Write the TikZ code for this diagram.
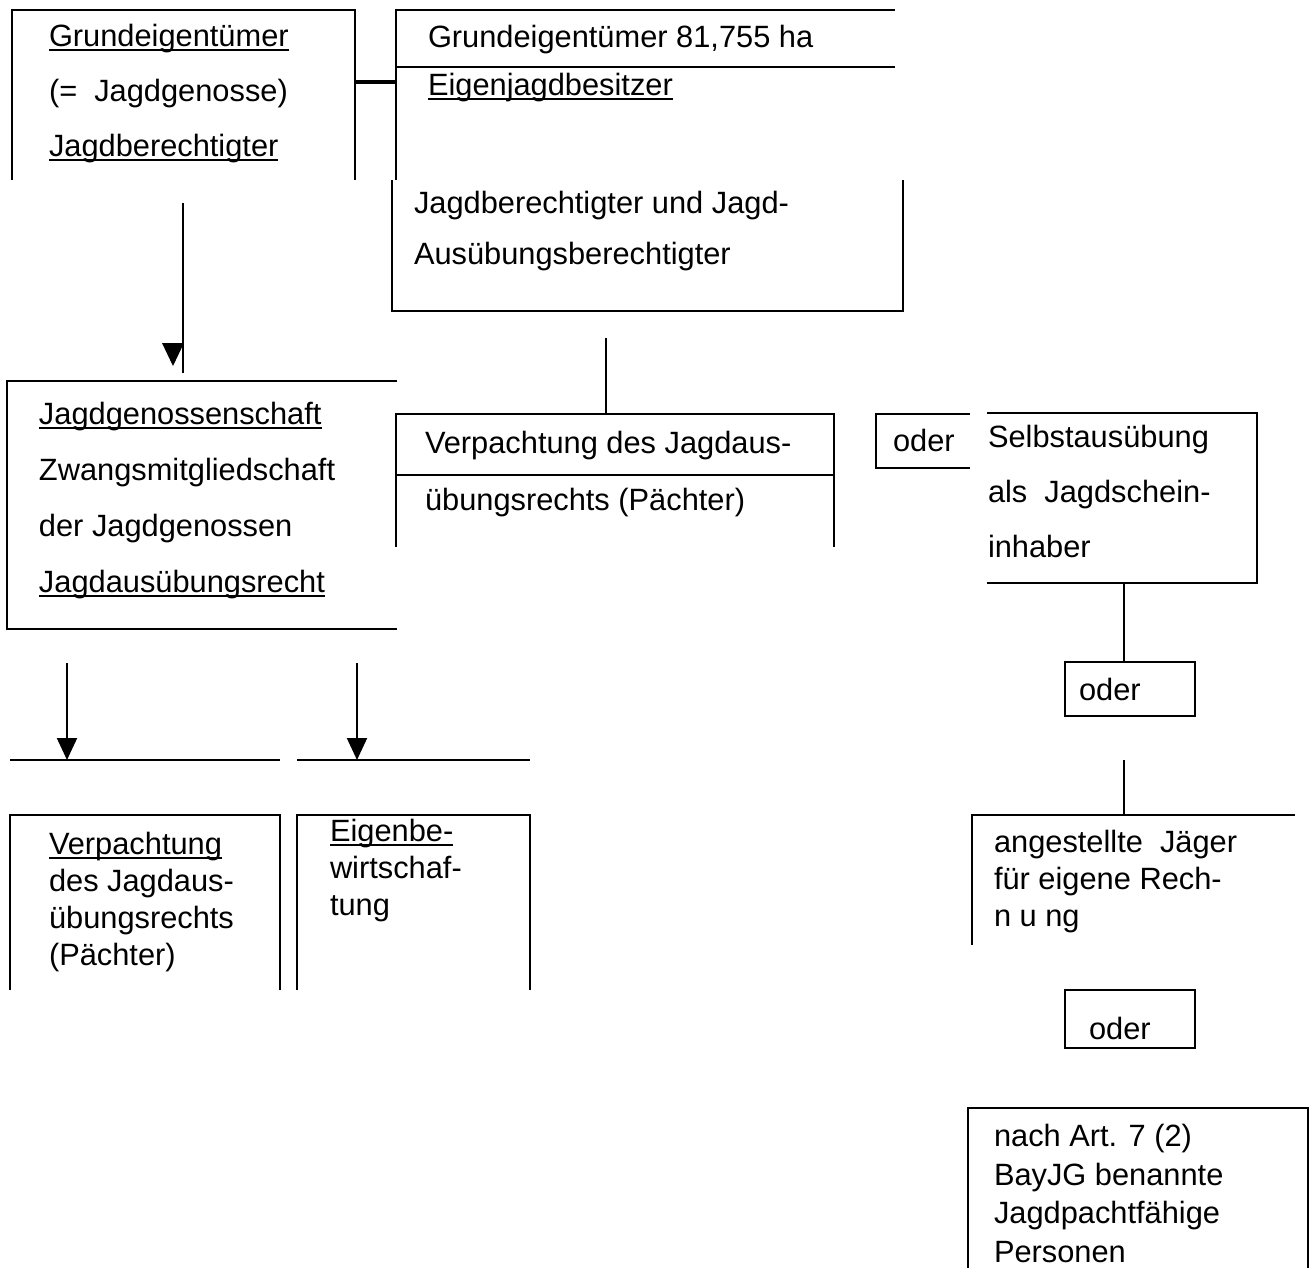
\documentclass[tikz,border=0pt]{standalone}
\usepackage{fontspec}
\setmainfont{Liberation Sans}
\usepackage{tikz}
\usetikzlibrary{arrows.meta,positioning}
\newcommand{\ulin}[1]{\setbox0\hbox{#1}\rlap{\rule[-2.4pt]{\wd0}{0.9pt}}\box0}

\begin{document}
\begin{tikzpicture}[x=0.5pt, y=-0.5pt, line width=1pt,
  every node/.style={inner sep=0pt, anchor=base west, align=left, font=\fontsize{15.4}{18.5}\selectfont},
  wide/.style={font=\fontsize{15.4}{27.5}\selectfont},
  oderbox/.style={draw, anchor=center, minimum width=65pt, minimum height=27pt, text width=51pt, inner xsep=7pt},
  arr/.style={-{Triangle[length=11pt, width=10pt]}}]
  \useasboundingbox (0,0) rectangle (1311,1276);

  % Top row (multi-line nodes sit on their last baseline)
  \node[wide] (geig) at (48,156) {\ulin{Grundeigentümer}\\(=\ \ Jagdgenosse)\\\ulin{Jagdberechtigter}};
  \draw (12,180) -- (12,10) -- (355,10) -- (355,180);
  \node (ejbha) at (427,47) {Grundeigentümer 81,755 ha};
  \node (ejb) at (427,95) {\ulin{Eigenjagdbesitzer}};
  \draw (396,180) -- (396,10) -- (895,10);
  \draw (396,67) -- (895,67);
  \node[font=\fontsize{15.4}{25.5}\selectfont] (jber) at (413,264) {Jagdberechtigter und Jagd-\\Ausübungsberechtigter};
  \draw (392,180) -- (392,311) -- (903,311) -- (903,180);

  % Middle row
  \node[font=\fontsize{15.4}{28}\selectfont] (jgen) at (38,592) {\ulin{Jagdgenossenschaft}\\Zwangsmitgliedschaft\\der Jagdgenossen\\\ulin{Jagdausübungsrecht}};
  \draw (397,381) -- (7,381) -- (7,629) -- (397,629);
  \node (verp) at (424,453) {Verpachtung des Jagdaus-};
  \node (verpb) at (424,510) {übungsrechts (Pächter)};
  \draw (396,547) -- (396,414) -- (834,414) -- (834,547);
  \draw (396,475) -- (834,475);
  \node (oder1) at (892,451) {oder};
  \draw (970,414) -- (876,414) -- (876,468) -- (970,468);
  \node[wide] (selbst) at (987,557) {Selbstausübung\\als\ \ Jagdschein-\\inhaber};
  \draw (987,413) -- (1257,413) -- (1257,583) -- (987,583);

  % Right column
  \node[oderbox] (oder2) at (1130,689) {oder};
  \node (angj) at (993,926) {angestellte\ \ Jäger\\für eigene Rech-\\n u ng};
  \draw (972,945) -- (972,815) -- (1295,815);
  \node[oderbox, minimum height=29pt, text height=21pt, inner xsep=12pt, text width=41pt] (oder3) at (1130,1019) {oder};
  \node[font=\fontsize{15.4}{19.2}\selectfont] (bayjg) at (993,1262) {nach Art. 7 (2)\\BayJG benannte\\Jagdpachtfähige\\Personen};
  \draw (968,1268) -- (968,1108) -- (1308,1108) -- (1308,1268);

  % Bottom left
  \draw (10,760) -- (280,760);
  \draw (297,760) -- (530,760);
  \node (verpl) at (48,965) {\ulin{Verpachtung}\\des Jagdaus-\\übungsrechts\\(Pächter)};
  \draw (10,990) -- (10,815) -- (280,815) -- (280,990);
  \node (eigb) at (329,915) {\ulin{Eigenbe-}\\wirtschaf-\\tung};
  \draw (297,990) -- (297,815) -- (530,815) -- (530,990);

  % Connectors
  \coordinate (geigr) at (355,82);
  \coordinate (ejbl) at (396,82);
  \draw[line width=2pt] (geigr) -- (ejbl);
  \coordinate (geigs) at (183,203);
  \coordinate (jgent) at (183,373);
  \draw (geigs) -- (jgent);
  \fill (162,343) -- (184,343) -- (173,366) -- cycle;
  \coordinate (jberb) at (606,338);
  \coordinate (verpt) at (606,414);
  \draw (jberb) -- (verpt);
  \coordinate (selbb) at (1124,583);
  \draw (selbb) -- (selbb |- oder2.north);
  \coordinate (oders) at (1124,760);
  \coordinate (angjt) at (1124,815);
  \draw (oders) -- (angjt);
  \coordinate (jgenl) at (67,663);
  \coordinate (verplt) at (67,760);
  \coordinate (jgenr) at (357,663);
  \coordinate (eigbt) at (357,760);
  \draw[arr] (jgenl) -- (verplt);
  \draw[arr] (jgenr) -- (eigbt);
\end{tikzpicture}
\end{document}
